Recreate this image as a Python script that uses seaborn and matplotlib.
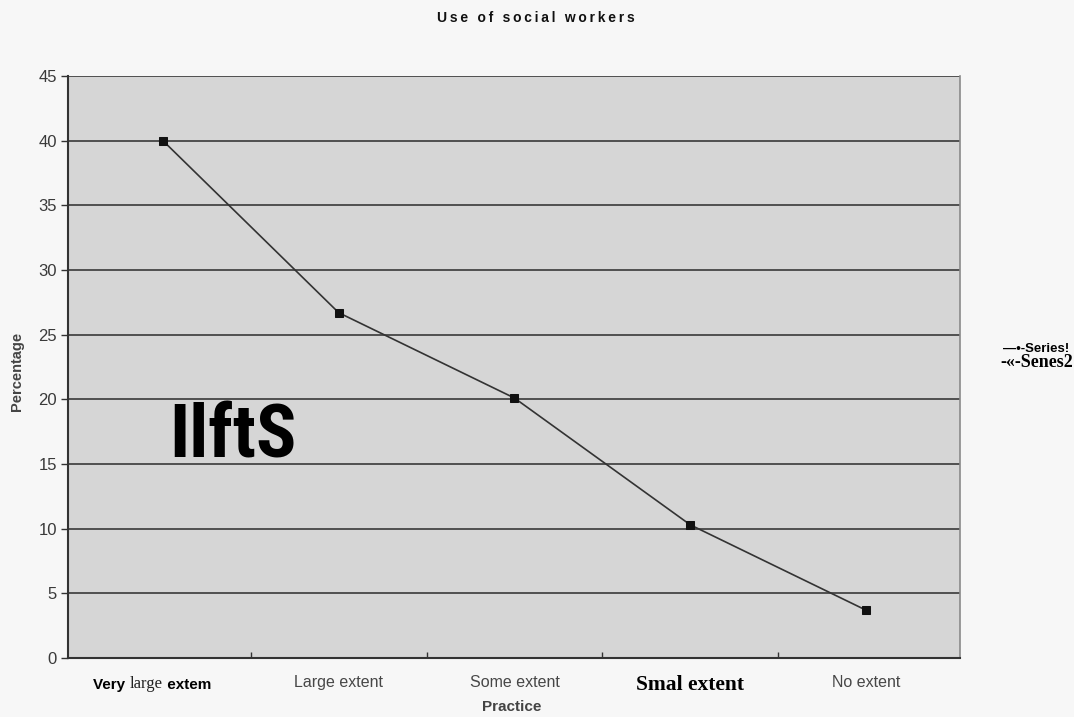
import matplotlib
matplotlib.use("Agg")
import matplotlib.pyplot as plt
from matplotlib import font_manager
import seaborn as sns
import pandas as pd

# Survey responses: extent of practice vs. share of respondents
categories = ["Very large extem", "Large extent", "Some extent", "Smal extent", "No extent"]
percentages = [40.0, 26.7, 20.1, 10.3, 3.7]
y_ticks = [0, 5, 10, 15, 20, 25, 30, 35, 40, 45]
legend_entries = ["\u2014\u2022-Series!", "-\u00ab-Senes2"]
title = "Use of social workers"
x_title = "Practice"
y_title = "Percentage"
stray_text = "IlftS"

sns.set_theme(style="white")
plt.rcParams["font.family"] = ["Liberation Sans", "DejaVu Sans"]

# Pick a condensed face for the large overlay word if one is available
installed = {f.name for f in font_manager.fontManager.ttflist}
narrow_choices = [n for n in ("Liberation Sans Narrow", "Roboto Condensed",
                              "DejaVu Sans Condensed", "Open Sans Condensed")
                  if n in installed]
narrow_family = narrow_choices[0] if narrow_choices else "Liberation Sans"
narrow_size = 54 if narrow_choices else 48

W, H = 1074, 717
fig = plt.figure(figsize=(W / 100, H / 100), dpi=100, facecolor="#f7f7f7")
ax = fig.add_axes([68 / W, 1 - 658 / H, (960 - 68) / W, (658 - 76) / H])
ax.set_facecolor("#d6d6d6")

df = pd.DataFrame({"Practice": categories, "Percentage": percentages})
df["pos"] = range(len(df))

ax.set_axisbelow(True)
ax.yaxis.grid(True, color="#454545", linewidth=1.3)
sns.lineplot(data=df, x="pos", y="Percentage", ax=ax, color="#333333",
             linewidth=1.2, marker="s", markersize=5.5,
             markerfacecolor="#111111", markeredgecolor="#111111")

ax.set_xlim(-0.54, 4.535)
ax.set_ylim(0, 45)
ax.set_yticks(y_ticks)
ax.set_yticklabels([str(v) for v in y_ticks], fontsize=12, color="#3a3a3a")
ax.tick_params(axis="y", direction="out", length=5, width=1, color="#333333",
               left=True, pad=3)

ax.set_xticks(range(len(categories)))
ax.set_xticklabels(categories, fontsize=11.5, color="#474747")
ax.set_xticks([i + 0.5 for i in range(len(categories) - 1)], minor=True)
ax.tick_params(axis="x", which="major", length=0, pad=12)
ax.tick_params(axis="x", which="minor", direction="in", length=4, width=1,
               color="#333333", bottom=True)

for side in ("left", "bottom"):
    ax.spines[side].set_color("#333333")
    ax.spines[side].set_linewidth(1.5)
ax.spines["top"].set_visible(False)
ax.spines["right"].set_color("#8a8a8a")
ax.spines["right"].set_linewidth(1.2)

ax.set_xlabel("")
ax.set_ylabel("")

labels = ax.get_xticklabels()
# Fourth category label in a heavy serif
labels[3].set_fontfamily(["Liberation Serif", "DejaVu Serif"])
labels[3].set_fontweight("bold")
labels[3].set_fontsize(15.5)
labels[3].set_color("black")
# First category label drawn in mixed faces
labels[0].set_visible(False)
w_very, w_large, w_extem = categories[0].split()
mid = ax.annotate(w_large, xy=(0, 0), xycoords=ax.get_xaxis_transform(),
                  xytext=(-12, -13), textcoords="offset points",
                  ha="center", va="top", fontsize=12, color="#222222",
                  family=["Liberation Serif", "DejaVu Serif"],
                  annotation_clip=False)
ax.annotate(w_very + " ", xy=(0, 0), xycoords=mid, ha="right", va="bottom",
            fontsize=11, fontweight="bold", color="black")
ax.annotate(" " + w_extem, xy=(1, 0), xycoords=mid, ha="left", va="bottom",
            fontsize=11, fontweight="bold", color="black")

spaced_title = "\u2009".join(title)
fig.text(536 / W, 1 - 18 / H, spaced_title, ha="center", va="center",
         fontsize=10, fontweight="bold", color="#111111")
fig.text(512 / W, 1 - 707 / H, x_title, ha="center", va="center",
         fontsize=11, fontweight="bold", color="#444444")
fig.text(17 / W, 1 - 371 / H, y_title, ha="center", va="center",
         rotation=90, fontsize=10.5, fontweight="bold", color="#444444")

fig.text(1003 / W, 1 - 352 / H, legend_entries[0], ha="left", va="baseline",
         fontsize=9.5, fontweight="bold", color="black")
fig.text(1000 / W, 1 - 367 / H, legend_entries[1], ha="left", va="baseline",
         fontsize=13, fontweight="bold", color="black",
         family=["Liberation Serif", "DejaVu Serif"])

fig.text(169 / W, 1 - 458 / H, stray_text, ha="left", va="baseline",
         fontsize=narrow_size, fontweight="bold", color="black",
         family=[narrow_family, "Liberation Sans", "DejaVu Sans"])

fig.savefig("out.png", dpi=100, facecolor=fig.get_facecolor())
